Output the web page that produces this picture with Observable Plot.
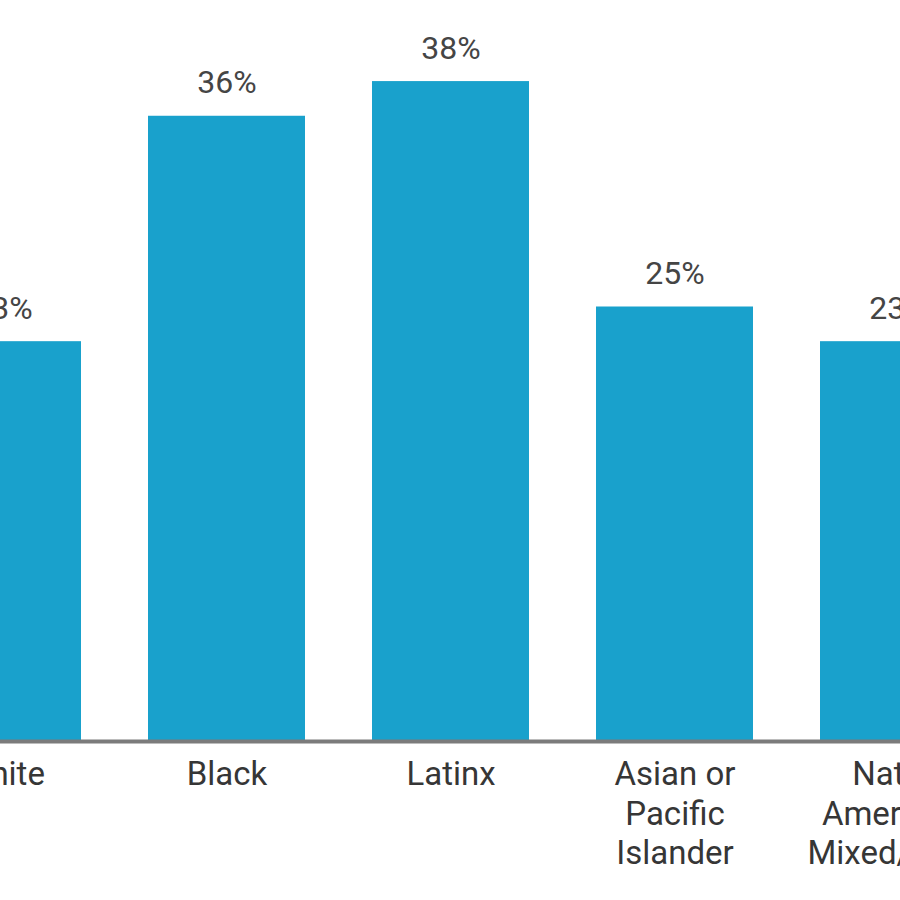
<!DOCTYPE html>
<html>
<head>
<meta charset="utf-8">
<script src="https://cdn.jsdelivr.net/npm/d3@7"></script>
<script src="https://cdn.jsdelivr.net/npm/@observablehq/plot@0.6"></script>
<style>
  html, body { margin: 0; padding: 0; background: #fff; overflow: hidden; }
  #chart svg { display: block; }
</style>
</head>
<body>
<div id="chart"></div>
<script>
const categories = ["White", "Black", "Latinx", "Asian or Pacific Islander", "Native American/ Mixed/Other"];
const tickLabels = ["White", "Black", "Latinx", "Asian or\nPacific\nIslander", "Native\nAmerican/\nMixed/Other"];
const values = [23, 36, 38, 25, 23];

const rows = categories.map((c, i) => ({category: c, value: values[i], label: tickLabels[i]}));

const chart = Plot.plot({
  width: 900,
  height: 900,
  margin: 0,
  style: {background: "#fff", fontFamily: "Roboto, sans-serif", overflow: "hidden"},
  x: {domain: categories, range: [-111, 1011], paddingInner: 0.3, paddingOuter: 0.15, axis: null},
  y: {domain: [0, 40], range: [740, 46.4], axis: null},
  marks: [
    Plot.barY(rows, {x: "category", y: "value", fill: "#19a1cc"}),
    Plot.ruleY([0], {stroke: "#7b7b7b", strokeWidth: 4, dy: 1}),
    Plot.text(rows, {x: "category", y: "value", text: d => `${d.value}%`, lineAnchor: "bottom", dy: -23, fontSize: 32, fill: "#454545"}),
    Plot.text(rows, {x: "category", y: () => 0, text: "label", lineAnchor: "top", dy: 17, fontSize: 33, lineHeight: 1.19, fill: "#363636"})
  ]
});
document.getElementById("chart").appendChild(chart);
</script>
</body>
</html>
